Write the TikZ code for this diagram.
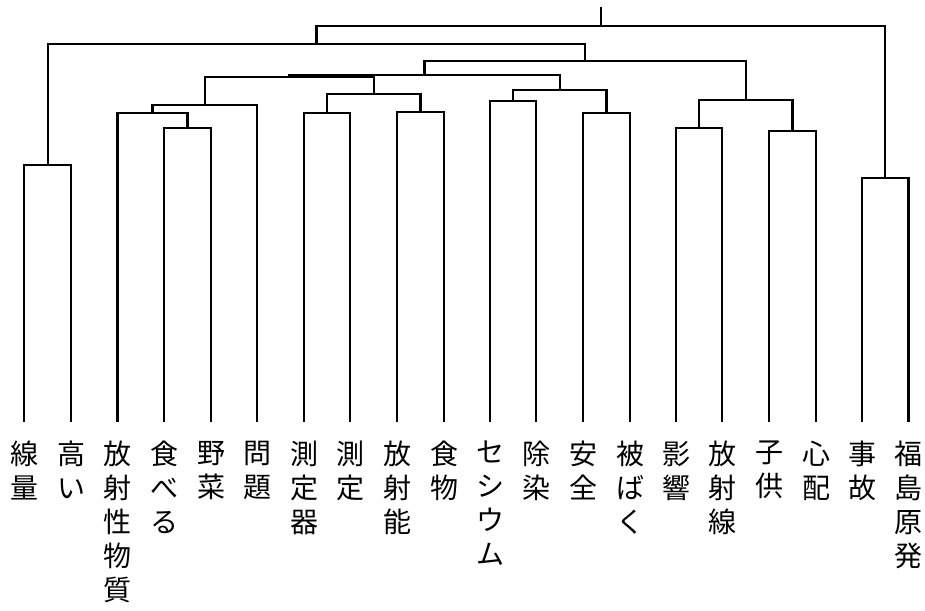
\documentclass[tikz,border=0pt]{standalone}
\usepackage{fontspec}
\newfontfamily\cjk{Noto Sans CJK JP}
\begin{document}
\begin{tikzpicture}[x=1pt,y=-1pt,
  link/.style={line width=2.2pt,line cap=rect,black},
  leaflabel/.style={anchor=north,inner sep=0pt,align=center,font=\cjk\fontsize{28}{34}\selectfont}]
\useasboundingbox (0,0) rectangle (925,610);
% leaves
\foreach \n/\x in {1/24.3,2/71.3,3/117.5,4/164,5/211,6/257,7/304,8/350,9/397,10/444,11/490,12/536,13/583,14/630,15/676,16/722,17/769,18/816,19/862,20/908.5}
  \coordinate (L\n) at (\x,421);
% labels
\tikzset{lblpos/.style={yshift=-20pt}}
\node[leaflabel] (t1) at ([lblpos]L1) {線\\量};
\node[leaflabel] (t2) at ([lblpos]L2) {高\\い};
\node[leaflabel] (t3) at ([lblpos]L3) {放\\射\\性\\物\\質};
\node[leaflabel] (t4) at ([lblpos]L4) {食\\べ\\る};
\node[leaflabel] (t5) at ([lblpos]L5) {野\\菜};
\node[leaflabel] (t6) at ([lblpos]L6) {問\\題};
\node[leaflabel] (t7) at ([lblpos]L7) {測\\定\\器};
\node[leaflabel] (t8) at ([lblpos]L8) {測\\定};
\node[leaflabel] (t9) at ([lblpos]L9) {放\\射\\能};
\node[leaflabel] (t10) at ([lblpos]L10) {食\\物};
\node[leaflabel] (t11) at ([lblpos]L11) {セ\\シ\\ウ\\ム};
\node[leaflabel] (t12) at ([lblpos]L12) {除\\染};
\node[leaflabel] (t13) at ([lblpos]L13) {安\\全};
\node[leaflabel] (t14) at ([lblpos]L14) {被\\ば\\く};
\node[leaflabel] (t15) at ([lblpos]L15) {影\\響};
\node[leaflabel] (t16) at ([lblpos]L16) {放\\射\\線};
\node[leaflabel] (t17) at ([lblpos]L17) {子\\供};
\node[leaflabel] (t18) at ([lblpos]L18) {心\\配};
\node[leaflabel] (t19) at ([lblpos]L19) {事\\故};
\node[leaflabel] (t20) at ([lblpos]L20) {福\\島\\原\\発};
% merge points
\coordinate (mA) at (47.8,165);
\coordinate (mFV) at (187.5,128);
\coordinate (mHF) at (152.5,113);
\coordinate (mQ) at (204.75,105);
\coordinate (mM) at (327,113);
\coordinate (mRF) at (420.5,112);
\coordinate (mMR) at (373.75,94);
\coordinate (mB) at (289.25,77);
\coordinate (mCs) at (513,101);
\coordinate (mSf) at (606.5,113);
\coordinate (mC) at (559.75,90);
\coordinate (mD) at (424.5,75);
\coordinate (mEi) at (699,128);
\coordinate (mCh) at (792.5,131);
\coordinate (mE) at (745.75,100);
\coordinate (mF) at (585.1,61);
\coordinate (mG) at (316.5,44);
\coordinate (mAc) at (885.25,178);
\coordinate (root) at (600.9,26);
\coordinate (top) at (600.9,8);
% links
\draw[link] (L1) |- (mA) -| (L2);
\draw[link] (L4) |- (mFV) -| (L5);
\draw[link] (L3) |- (mHF) -| (mFV);
\draw[link] (mHF) |- (mQ) -| (L6);
\draw[link] (L7) |- (mM) -| (L8);
\draw[link] (L9) |- (mRF) -| (L10);
\draw[link] (mM) |- (mMR) -| (mRF);
\draw[link] (mQ) |- (mB) -| (mMR);
\draw[link] (L11) |- (mCs) -| (L12);
\draw[link] (L13) |- (mSf) -| (L14);
\draw[link] (mCs) |- (mC) -| (mSf);
\draw[link] (mB) |- (mD) -| (mC);
\draw[link] (L15) |- (mEi) -| (L16);
\draw[link] (L17) |- (mCh) -| (L18);
\draw[link] (mEi) |- (mE) -| (mCh);
\draw[link] (mD) |- (mF) -| (mE);
\draw[link] (mA) |- (mG) -| (mF);
\draw[link] (L19) |- (mAc) -| (L20);
\draw[link] (mG) |- (root) -| (mAc);
\draw[link] (root) -- (top);
\end{tikzpicture}
\end{document}
